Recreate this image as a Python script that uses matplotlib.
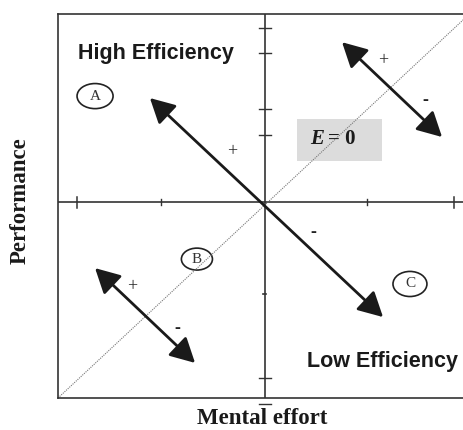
import matplotlib
matplotlib.use("Agg")
import matplotlib.pyplot as plt
from matplotlib.patches import Ellipse, Rectangle

# diagram coordinates: mental effort (x) vs performance (y), origin at the axis cross
x_range = [-10, 9.9]
y_range = [-10, 9.6]

# efficiency line E = 0
diag_x = [-10, 9.61]
diag_y = [-10, 9.34]

# tick positions on the central axes
xtick_big = [-9.08, 9.13]
xtick_small = [-5.02, 4.93]
ytick_dash = [8.88, 7.60, 4.74, 3.42, -8.98]
ytick_dot = [-4.69]

# double-headed arrows: (x0, y0, x1, y1)
arrows = [
    (-5.56, 5.31, 5.70, -5.87),
    (3.72, 8.16, 8.55, 3.32),
    (-8.21, -3.37, -3.38, -8.21),
]

# circled labels: letter, x, y, width, height
circles = [
    ("A", -8.21, 5.41, 1.74, 1.28),
    ("B", -3.29, -2.91, 1.50, 1.12),
    ("C", 7.00, -4.18, 1.64, 1.28),
]

# plus / minus signs
signs = [
    ("+", -1.59, 2.55),
    ("+", 5.70, 7.24),
    ("-", 7.73, 5.20),
    ("-", 2.32, -1.53),
    ("+", -6.43, -4.34),
    ("-", -4.25, -6.43),
]

# region titles
regions = [
    ("High Efficiency", -9.03, 7.60),
    ("Low Efficiency", 2.03, -8.16),
]

fig = plt.figure(figsize=(4.64, 4.30), dpi=100)
ax = fig.add_axes([58 / 464, 32 / 430, 412 / 464, 384 / 430])
ax.set_xlim(x_range)
ax.set_ylim(y_range)
ax.set_xticks([])
ax.set_yticks([])
for s in ax.spines.values():
    s.set_color("#333333")
    s.set_linewidth(1.2)

line_col = "#333333"
ax.axhline(0, color=line_col, lw=1.2)
ax.axvline(0, color=line_col, lw=1.2)

ax.plot(diag_x, diag_y, color="#777777", lw=0.8, ls=(0, (1, 1)))

for t in xtick_big:
    ax.plot([t, t], [-0.28, 0.28], color=line_col, lw=1.1)
for t in xtick_small:
    ax.plot([t, t], [-0.15, 0.15], color=line_col, lw=1.0)
for t in ytick_dash:
    ax.plot([-0.3, 0.3], [t, t], color=line_col, lw=1.0)
for t in ytick_dot:
    ax.plot([-0.1, 0.05], [t, t], color=line_col, lw=1.2)

for x0, y0, x1, y1 in arrows:
    ax.annotate("", xy=(x1, y1), xytext=(x0, y0),
                arrowprops=dict(arrowstyle="<|-|>,head_length=0.75,head_width=0.4",
                                mutation_scale=20, lw=2.0, color="#1a1a1a",
                                shrinkA=0, shrinkB=0))

for letter, cx, cy, w, h in circles:
    ax.add_patch(Ellipse((cx, cy), w, h, fill=False, ec="#222222", lw=1.2))
    ax.text(cx, cy, letter, ha="center", va="center", fontsize=11,
            family="Liberation Serif", color="#333333")

for s, x, y in signs:
    ax.text(x, y, s, ha="center", va="center", fontsize=13,
            family="Liberation Serif", color="#222222",
            fontweight="bold" if s == "-" else "normal")

for label, x, y in regions:
    ax.text(x, y, label, ha="left", va="center", fontsize=15.5,
            family="Liberation Sans", fontweight="bold", color="#1a1a1a")

# E = 0 box
ax.add_patch(Rectangle((1.55, 2.09), 4.10, 2.14, color="#dcdcdc", lw=0))
ax.text(2.85, 3.21, "E", ha="right", va="center", fontsize=15,
        family="Liberation Serif", fontweight="bold", style="italic", color="#1a1a1a")
ax.text(3.05, 3.21, "= 0", ha="left", va="center", fontsize=15,
        family="Liberation Serif", fontweight="bold", color="#1a1a1a")

# small dash below the box on the vertical axis
fig.add_artist(plt.Line2D([259 / 464, 271 / 464], [1 - 404 / 430, 1 - 404 / 430],
                          color=line_col, lw=1.0))

fig.text(262 / 464, 1 - 419 / 430, "Mental effort", ha="center", va="center",
         fontsize=16.5, family="Liberation Serif", fontweight="bold", color="#1a1a1a")
fig.text(20 / 464, 1 - 201 / 430, "Performance", ha="center", va="center",
         rotation=90, fontsize=16.5, family="Liberation Serif", fontweight="bold",
         color="#1a1a1a")

fig.savefig("out.png", dpi=100)
